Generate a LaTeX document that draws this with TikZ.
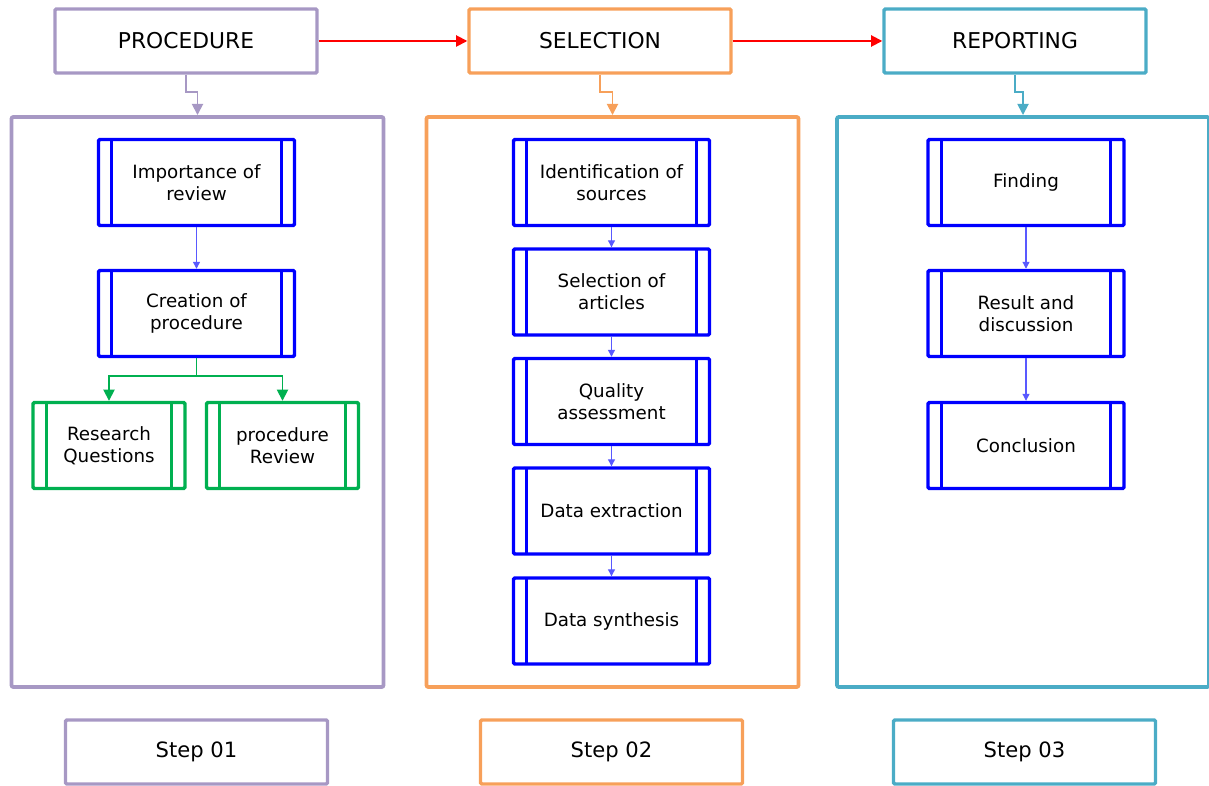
\documentclass[tikz,border=0pt]{standalone}
\usepackage{fontspec}
\setmainfont{DejaVu Sans}
\usetikzlibrary{positioning, arrows.meta}
\definecolor{procpurple}{RGB}{167,152,196}
\definecolor{selorange}{RGB}{247,160,90}
\definecolor{repteal}{RGB}{75,172,198}
\definecolor{boxblue}{RGB}{0,0,255}
\definecolor{boxgreen}{RGB}{0,176,80}

\begin{document}
\begin{tikzpicture}[
    x=0.025cm, y=-0.025cm,
    header/.style={rectangle, draw, line width=2.4pt, rounded corners=1pt, minimum width=6.55cm, minimum height=1.6cm, font=\fontsize{15.5}{18}\selectfont},
    panel/.style={rectangle, draw, line width=2.7pt, rounded corners=1.5pt, minimum width=9.3cm, minimum height=14.25cm},
    subproc/.style={rectangle, draw=boxblue, line width=2.4pt, rounded corners=1pt, minimum width=4.9cm, minimum height=2.15cm, align=center, font=\fontsize{13}{15.5}\selectfont,
        path picture={\draw[boxblue, line width=2pt] ([xshift=0.33cm]path picture bounding box.north west) -- ([xshift=0.33cm]path picture bounding box.south west)
            ([xshift=-0.33cm]path picture bounding box.north east) -- ([xshift=-0.33cm]path picture bounding box.south east);}},
    greenproc/.style={subproc, draw=boxgreen, minimum width=3.8cm,
        path picture={\draw[boxgreen, line width=2pt] ([xshift=0.33cm]path picture bounding box.north west) -- ([xshift=0.33cm]path picture bounding box.south west)
            ([xshift=-0.33cm]path picture bounding box.north east) -- ([xshift=-0.33cm]path picture bounding box.south east);}},
    stepbox/.style={rectangle, draw, line width=2.4pt, rounded corners=1pt, minimum width=6.55cm, minimum height=1.6cm, font=\fontsize{15}{18}\selectfont},
    arrow/.style={-{Triangle[width=5pt,length=5pt]}, line width=0.8pt, boxblue!65},
    bigarrow/.style={-{Triangle[width=8pt,length=8pt]}, line width=1.3pt}
]
\useasboundingbox (0,0) rectangle (1209,786);

% Headers
\node[header, draw=procpurple] (proc) at (186,41) {PROCEDURE};
\node[header, draw=selorange] (sel) at (600,41) {SELECTION};
\node[header, draw=repteal] (rep) at (1015,41) {REPORTING};

% Panels
\node[panel, draw=procpurple] (panelA) at (197.5,402) {};
\node[panel, draw=selorange] (panelB) at (612.5,402) {};
\node[panel, draw=repteal] (panelC) at (1023,402) {};

% Procedure
\node[subproc] (imp) at (196.5,182.5) {Importance of\\review};
\node[subproc] (cre) at (196.5,313.5) {Creation of\\procedure};
\node[greenproc] (rq) at (109,445.5) {Research\\Questions};
\node[greenproc] (prv) at (282.5,445.5) {procedure\\Review};

% Selection
\node[subproc] (ids) at (611.5,182.5) {Identification of\\sources};
\node[subproc] (soa) at (611.5,292) {Selection of\\articles};
\node[subproc] (qas) at (611.5,401.5) {Quality\\assessment};
\node[subproc] (dex) at (611.5,511) {Data extraction};
\node[subproc] (dsy) at (611.5,621) {Data synthesis};

% Reporting
\node[subproc] (fnd) at (1026,182.5) {Finding};
\node[subproc] (res) at (1026,313.5) {Result and\\discussion};
\node[subproc] (con) at (1026,445.5) {Conclusion};

% Steps
\node[stepbox, draw=procpurple] (stepA) at (196.5,752) {Step 01};
\node[stepbox, draw=selorange] (stepB) at (611.5,752) {Step 02};
\node[stepbox, draw=repteal] (stepC) at (1024.5,752) {Step 03};

% Arrows
\draw[bigarrow, red] (proc) -- (sel);
\draw[bigarrow, red] (sel) -- (rep);
\draw[bigarrow, procpurple] (proc.south) -- ++(0,17) -| (panelA.north);
\draw[bigarrow, selorange] (sel.south) -- ++(0,17) -| (panelB.north);
\draw[bigarrow, repteal] (rep.south) -- ++(0,17) -| (panelC.north);

\draw[arrow] (imp) -- (cre);
\draw[line width=1.2pt, boxgreen] (cre.south) -- ++(0,18) coordinate (split);
\draw[bigarrow, boxgreen, line width=1.2pt] (split) -| (rq.north);
\draw[bigarrow, boxgreen, line width=1.2pt] (split) -| (prv.north);

\draw[arrow] (ids) -- (soa);
\draw[arrow] (soa) -- (qas);
\draw[arrow] (qas) -- (dex);
\draw[arrow] (dex) -- (dsy);

\draw[arrow] (fnd) -- (res);
\draw[arrow] (res) -- (con);

\end{tikzpicture}
\end{document}
